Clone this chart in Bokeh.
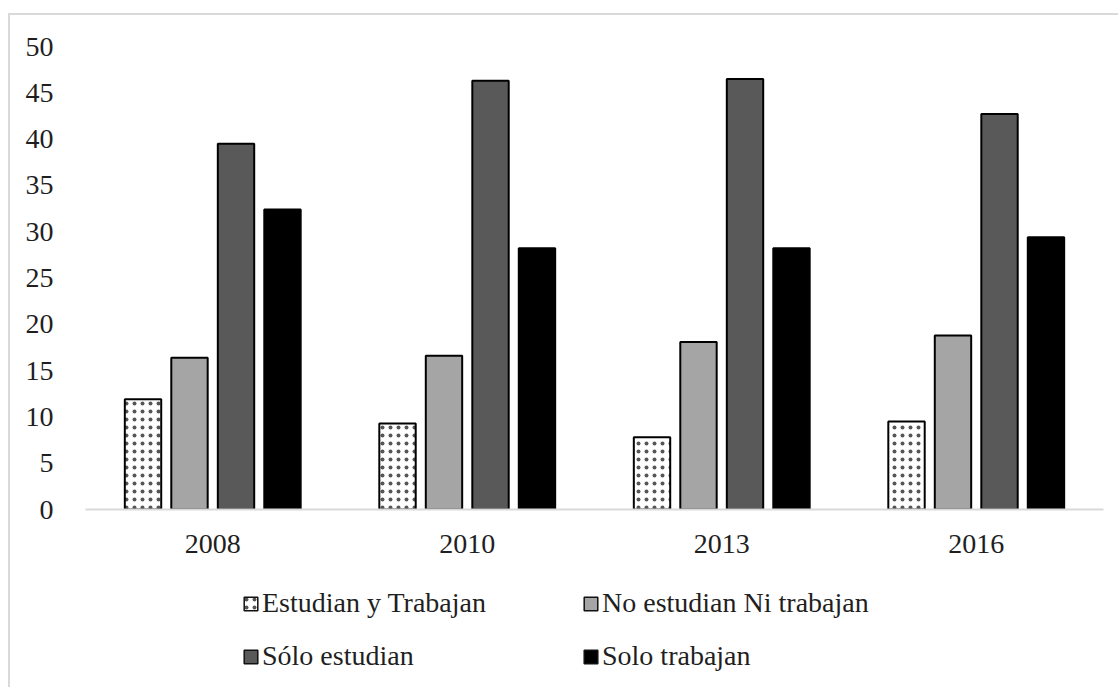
from bokeh.plotting import figure
from bokeh.layouts import column
from bokeh.models import (ColumnDataSource, FactorRange, Range1d, Legend, LegendItem,
                          FixedTicker)
from bokeh.transform import dodge
from bokeh.embed import file_html
from bokeh.resources import INLINE

years = ["2008", "2010", "2013", "2016"]
series_names = ["Estudian y Trabajan", "No estudian Ni trabajan", "Sólo estudian", "Solo trabajan"]
estudian_y_trabajan = [11.9, 9.3, 7.8, 9.5]
no_estudian_ni_trabajan = [16.4, 16.6, 18.1, 18.8]
solo_estudian = [39.5, 46.3, 46.5, 42.7]
solo_trabajan = [32.4, 28.2, 28.2, 29.4]
y_ticks = [0, 5, 10, 15, 20, 25, 30, 35, 40, 45, 50]

FONT = "Liberation Serif"
TEXT = "#1f1f1f"
BORDER = "2px solid #d9d9d9"

source = ColumnDataSource(dict(
    year=years,
    et=estudian_y_trabajan,
    ne=no_estudian_ni_trabajan,
    se=solo_estudian,
    st=solo_trabajan,
))

p = figure(width=1110, height=554, x_range=FactorRange(*years), y_range=Range1d(0, 50),
           output_backend="svg", toolbar_location=None,
           min_border_left=75, min_border_right=17, min_border_top=31, min_border_bottom=60)
p.outline_line_color = None
p.xgrid.grid_line_color = None
p.ygrid.grid_line_color = None
p.background_fill_color = "white"
p.border_fill_color = "white"
p.margin = (13, 0, 0, 8)
p.styles = {"border-top": BORDER, "border-left": BORDER}

bw = 0.143
offsets = [-0.274, -0.0914, 0.0914, 0.274]
cols = ["et", "ne", "se", "st"]
fills = ["white", "#a5a5a5", "#595959", "#000000"]
hatch_kw = dict(hatch_pattern="dot", hatch_color="#555555", hatch_scale=8, hatch_weight=1.2)
for i, (c, f) in enumerate(zip(cols, fills)):
    kw = hatch_kw if c == "et" else {}
    p.vbar(x=dodge("year", offsets[i], range=p.x_range), top=c, width=bw, source=source,
           fill_color=f, line_color="black", line_width=2, **kw)

p.yaxis.ticker = FixedTicker(ticks=y_ticks)
p.yaxis.axis_line_color = None
p.yaxis.major_tick_line_color = None
p.yaxis.minor_tick_line_color = None
p.yaxis.major_label_standoff = 26
p.yaxis.major_label_text_font = FONT
p.yaxis.major_label_text_font_size = "28px"
p.yaxis.major_label_text_color = TEXT

p.xaxis.axis_line_color = "#d9d9d9"
p.xaxis.axis_line_width = 2
p.xaxis.major_tick_line_color = None
p.xaxis.minor_tick_line_color = None
p.xaxis.major_label_standoff = 19
p.xaxis.major_label_text_font = FONT
p.xaxis.major_label_text_font_size = "28px"
p.xaxis.major_label_text_color = TEXT

# legend panel below the chart (hidden copies of the series supply the swatches)
p2 = figure(width=1110, height=120, x_range=FactorRange(*years), y_range=Range1d(0, 50),
            output_backend="svg", toolbar_location=None,
            min_border_left=0, min_border_right=0, min_border_top=0, min_border_bottom=0)
p2.axis.visible = False
p2.xgrid.grid_line_color = None
p2.ygrid.grid_line_color = None
p2.outline_line_color = None
p2.margin = (0, 0, 0, 8)
p2.styles = {"border-left": BORDER}

swatches = []
for i, (c, f) in enumerate(zip(cols, fills)):
    kw = hatch_kw if c == "et" else {}
    r = p2.vbar(x=dodge("year", offsets[i], range=p2.x_range), top=c, width=bw, source=source,
                fill_color=f, line_color="#111111", line_width=1.5, **kw)
    r.visible = False
    swatches.append(r)

# legend fills column-major, so order items to read row-wise
order = [0, 2, 1, 3]
items = [LegendItem(label=series_names[k], renderers=[swatches[k]]) for k in order]
legend = Legend(items=items, ncols=2, location=(157, 15),
                glyph_width=17, glyph_height=17, label_standoff=3,
                label_height=30, label_width=299, spacing=21,
                padding=0, margin=0, border_line_color=None, background_fill_alpha=0,
                label_text_font=FONT, label_text_font_size="28px", label_text_color=TEXT)
p2.add_layout(legend, "center")

layout = column(p, p2, spacing=0)
open("out.html", "w").write(file_html(layout, INLINE))
